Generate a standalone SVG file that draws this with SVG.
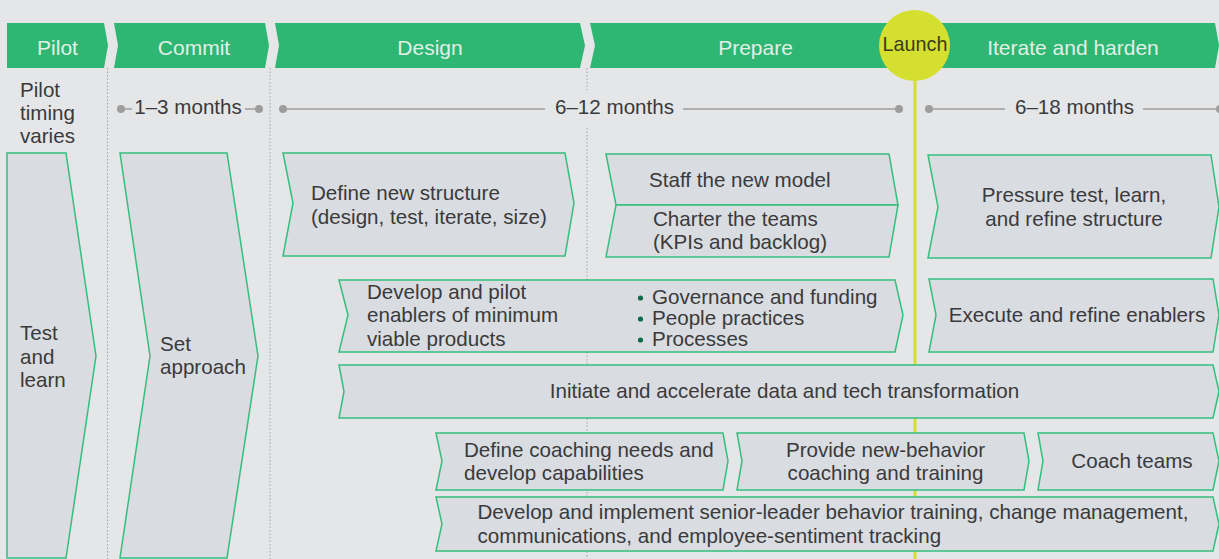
<svg xmlns="http://www.w3.org/2000/svg" width="1219" height="559" viewBox="0 0 1219 559">
<style>
.hdr{fill:#2eb673}
.hdrt{font-family:"Liberation Sans",Arial,sans-serif;font-size:21px;fill:#e2efe6;text-anchor:middle}
.box{fill:#d9dce0;stroke:#33bf7d;stroke-width:1.5;stroke-linejoin:miter}
.t{font-family:"Liberation Sans",Arial,sans-serif;font-size:20.6px;fill:#3a3a3c}
.c{text-anchor:middle}
.dot{stroke:#a3a3a3;stroke-width:1;stroke-dasharray:1.5 2}
.tl{stroke:#9d9d9d;stroke-width:1.5}
.td{fill:#9d9d9d}
.bul{fill:#0f6b48}
</style>
<rect width="1219" height="559" fill="#e5e6e8"/>

<g id="guides">
<line class="dot" x1="107.5" y1="68" x2="107.5" y2="559"/>
<line class="dot" x1="270" y1="68" x2="270" y2="559"/>
<line class="dot" x1="587" y1="68" x2="587" y2="90"/>
<line class="dot" x1="587" y1="128" x2="587" y2="559"/>
<line x1="915" y1="70" x2="915" y2="559" stroke="#d4df2f" stroke-width="3"/>
</g>

<g id="header">
<g id="phase-pilot"><polygon class="hdr" points="7,23 104,23 108,45.5 104,68 7,68"/><text class="hdrt" x="57.5" y="55">Pilot</text></g>
<g id="phase-commit"><polygon class="hdr" points="114,23 265,23 269,45.5 265,68 114,68 118,45.5"/><text class="hdrt" x="194" y="55">Commit</text></g>
<g id="phase-design"><polygon class="hdr" points="275,23 580,23 585,45.5 580,68 275,68 279,45.5"/><text class="hdrt" x="430" y="55">Design</text></g>
<g id="phase-prepare"><polygon class="hdr" points="590,23 1215,23 1219,45.5 1215,68 590,68 595,45.5"/><text class="hdrt" x="755.5" y="55">Prepare</text><text class="hdrt" x="1073" y="55">Iterate and harden</text></g>
<g id="launch"><circle cx="914.5" cy="45.5" r="35.5" fill="#d4df2f"/><text x="915" y="51" font-family="Liberation Sans,Arial,sans-serif" font-size="19.8" fill="#3b3b1e" text-anchor="middle">Launch</text></g>
</g>

<g id="connectors">
<circle class="td" cx="121" cy="109" r="4"/><line class="tl" x1="121" y1="109" x2="132" y2="109"/>
<line class="tl" x1="245" y1="109" x2="259" y2="109"/><circle class="td" cx="259" cy="109" r="4"/>
<circle class="td" cx="283" cy="109" r="4"/><line class="tl" x1="283" y1="109" x2="545" y2="109"/>
<line class="tl" x1="683" y1="109" x2="899" y2="109"/><circle class="td" cx="899" cy="109" r="4"/>
<circle class="td" cx="929" cy="109" r="4"/><line class="tl" x1="929" y1="109" x2="1005" y2="109"/>
<line class="tl" x1="1143" y1="109" x2="1219" y2="109"/><circle class="td" cx="1220" cy="109" r="4"/>
</g>

<g id="timing">
<text class="t"><tspan x="20" y="97">Pilot</tspan><tspan x="20" y="120">timing</tspan><tspan x="20" y="143">varies</tspan></text>
<text class="t c" x="188" y="114">1–3 months</text>
<text class="t c" x="614.5" y="114">6–12 months</text>
<text class="t c" x="1074.5" y="114">6–18 months</text>
</g>

<g id="test-and-learn">
<polygon class="box" points="7,153 66,153 96,356 66,558 7,558"/>
<text class="t"><tspan x="20" y="340">Test</tspan><tspan x="20" y="363.5">and</tspan><tspan x="20" y="387">learn</tspan></text>
</g>
<g id="set-approach">
<polygon class="box" points="120,153 227,153 258,356 227,558 120,558 150,356"/>
<text class="t"><tspan x="160" y="351">Set</tspan><tspan x="160" y="374">approach</tspan></text>
</g>
<g id="define-structure">
<polygon class="box" points="283,153 565,153 574,203 565,256 283,256 293,203"/>
<text class="t"><tspan x="311" y="200">Define new structure</tspan><tspan x="311" y="223.5">(design, test, iterate, size)</tspan></text>
</g>
<g id="staff-model">
<polygon class="box" points="606,154 889,154 898,205 616,205"/>
<text class="t" x="649" y="187">Staff the new model</text>
</g>
<g id="charter-teams">
<polygon class="box" points="616,205 898,205 889,257 606,257"/>
<text class="t"><tspan x="653" y="226">Charter the teams</tspan><tspan x="653" y="249">(KPIs and backlog)</tspan></text>
</g>
<g id="develop-enablers">
<polygon class="box" points="339,280 895,280 903,315 895,352 339,352 348,315"/>
<text class="t"><tspan x="367" y="298.5">Develop and pilot</tspan><tspan x="367" y="322">enablers of minimum</tspan><tspan x="367" y="345.5">viable products</tspan></text>
<circle class="bul" cx="640.5" cy="298" r="2.6"/><circle class="bul" cx="640.5" cy="319" r="2.6"/><circle class="bul" cx="640.5" cy="340" r="2.6"/>
<text class="t"><tspan x="652" y="304">Governance and funding</tspan><tspan x="652" y="325">People practices</tspan><tspan x="652" y="346">Processes</tspan></text>
</g>
<g id="pressure-test">
<polygon class="box" points="928,155 1211,155 1219,207 1211,258 928,258 938,207"/>
<text class="t c"><tspan x="1074" y="202">Pressure test, learn,</tspan><tspan x="1074" y="225.5">and refine structure</tspan></text>
</g>
<g id="execute-enablers">
<polygon class="box" points="929,279 1213,279 1219,315 1213,352 929,352 936,315"/>
<text class="t c" x="1077" y="322">Execute and refine enablers</text>
</g>
<g id="data-tech">
<polygon class="box" points="339,365 1213,365 1219,391.5 1213,418 339,418 344,391.5"/>
<text class="t c" x="784.5" y="398">Initiate and accelerate data and tech transformation</text>
</g>
<g id="coaching-needs">
<polygon class="box" points="436,433 723,433 728,461 723,490 436,490 442,461"/>
<text class="t"><tspan x="464" y="457">Define coaching needs and</tspan><tspan x="464" y="480">develop capabilities</tspan></text>
</g>
<g id="new-behavior">
<polygon class="box" points="737,433 1024,433 1029,461 1024,490 737,490 742,461"/>
<text class="t c"><tspan x="885.5" y="457">Provide new-behavior</tspan><tspan x="885.5" y="480">coaching and training</tspan></text>
</g>
<g id="coach-teams">
<polygon class="box" points="1038,433 1213,433 1219,461 1213,490 1038,490 1043,461"/>
<text class="t c" x="1132" y="468">Coach teams</text>
</g>
<g id="senior-leader">
<polygon class="box" points="436,497 1213,497 1219,524 1213,551 436,551 442,524"/>
<text class="t"><tspan x="477.5" y="519">Develop and implement senior-leader behavior training, change management,</tspan><tspan x="477.5" y="543">communications, and employee-sentiment tracking</tspan></text>
</g>
</svg>
